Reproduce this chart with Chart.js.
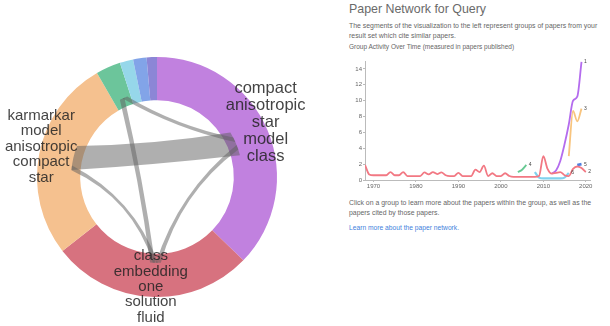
<!DOCTYPE html>
<html>
<head>
<meta charset="utf-8">
<script src="https://cdn.jsdelivr.net/npm/chart.js@4"></script>
<style>
  body { margin: 0; width: 610px; height: 326px; background: #fff; position: relative; overflow: hidden;
         font-family: "Liberation Sans", Arial, sans-serif; }
  #ring-wrap { position: absolute; left: 0; top: 0; width: 320px; height: 326px; }
  #activity-wrap { position: absolute; left: 340px; top: 55px; width: 260px; height: 137px; }
  .txt { position: absolute; left: 349px; white-space: nowrap; color: #666; }
</style>
</head>
<body>
<div id="ring-wrap"><canvas id="ring-chart"></canvas></div>

<div class="txt" style="top:2px; font-size:12.4px; color:#6a6a6a;">Paper Network for Query</div>
<div class="txt" style="top:21px; font-size:6.9px; line-height:10px;">The segments of the visualization to the left represent groups of papers from your<br>result set which cite similar papers.</div>
<div class="txt" style="top:43px; font-size:6.5px;">Group Activity Over Time (measured in papers published)</div>
<div id="activity-wrap"><canvas id="activity-chart"></canvas></div>
<div class="txt" style="top:198px; font-size:6.9px; line-height:10px;">Click on a group to learn more about the papers within the group, as well as the<br>papers cited by those papers.</div>
<div class="txt" style="top:224px; font-size:6.7px; color:#3f7fdc;">Learn more about the paper network.</div>

<script>
/* ============================== DATA ============================== */
// groups of the ring, clockwise from the top
const groupSizes  = [134, 98, 98, 12, 6.5, 6.5, 5];
const groupColors = ['#c181df', '#d7727f', '#f5c18f', '#6cc59b', '#96d7ea', '#82a4e8', '#8c86d6'];
const groupLabels = [
    ['compact', 'anisotropic', 'star', 'model', 'class'],
    ['class', 'embedding', 'one', 'solution', 'fluid'],
    ['karmarkar', 'model', 'anisotropic', 'compact', 'star'],
    [], [], [], []
];

// links between groups (index into the groups above)
const linkFrom   = [2, 3, 3, 2, 0];
const linkTo     = [0, 1, 0, 1, 1];
const linkWeight = [5, 1, 1, 1, 1];

// activity over time
const xTickYears  = [1970, 1980, 1990, 2000, 2010, 2020];
const yTickValues = [0, 2, 4, 6, 8, 10, 12, 14];

const redYears = [1968, 1969, 1970, 1971, 1972, 1973, 1974, 1975, 1976, 1977, 1978, 1979, 1980, 1981, 1982, 1983,
                  1984, 1985, 1986, 1987, 1988, 1989, 1990, 1991, 1992, 1993, 1994, 1995, 1996, 1997, 1998, 1999,
                  2000, 2001, 2002, 2003, 2004, 2005, 2006, 2007, 2008, 2009, 2010, 2011, 2012, 2013, 2014, 2015,
                  2016, 2017, 2018, 2019, 2020];
const redValues = [1.9, 0.7, 0.6, 0.6, 0.6, 0.6, 1.0, 0.6, 0.6, 1.0, 0.5, 0.5, 0.5, 0.5, 0.95, 0.7,
                   1.0, 0.75, 0.95, 0.6, 0.5, 0.5, 0.9, 0.5, 0.5, 0.5, 1.3, 1.0, 1.8, 0.5, 0.85, 0.5,
                   0.5, 0.85, 0.5, 0.4, 0.4, 0.4, 0.4, 0.4, 0.4, 0.5, 3.0, 1.4, 0.8, 0.9, 1.0, 0.6,
                   0.5, 1.4, 1.7, 1.5, 1.0];
const purpleYears  = [2012, 2013, 2014, 2015, 2016, 2017, 2018, 2019];
const purpleValues = [0.8, 1.2, 2.4, 4.5, 7.0, 10.0, 10.5, 14.9];
const orangeYears  = [2016, 2017, 2018, 2019];
const orangeValues = [3.0, 8.7, 7.4, 9.0];
const greenYears   = [2004, 2005, 2006];
const greenValues  = [1.0, 1.3, 1.9];
const cyanYears    = [2008, 2009, 2010, 2011, 2012, 2013, 2014, 2015, 2016];
const cyanValues   = [1.0, 0.3, 0.2, 0.2, 0.2, 0.2, 0.2, 0.3, 0.9];
const blueYears    = [2018, 2019];
const blueValues   = [1.9, 2.0];

/* ============================== RING ============================== */
const linkPlugin = {
    id: 'linkPlugin',
    afterDatasetsDraw(chart, args, opts) {
        const { ctx } = chart;
        const arcs = chart.getDatasetMeta(0).data;
        const cx = arcs[0].x, cy = arcs[0].y;
        const rr = arcs[0].innerRadius + 9;
        const unit = 3.3 * Math.PI / 180;
        const pt = a => [cx + rr * Math.cos(a), cy + rr * Math.sin(a)];
        const ctrl = (p, q, s) => {
            const mx = (p[0] + q[0]) / 2, my = (p[1] + q[1]) / 2;
            return [mx + s * (cx - mx), my + s * (cy - my)];
        };
        const at = (el, f) => el.startAngle + f * (el.endAngle - el.startAngle);

        ctx.save();
        ctx.fillStyle = 'rgba(95, 95, 95, 0.5)';
        linkFrom.forEach((src, i) => {
            const hw = linkWeight[i] * unit / 2;
            const a = at(arcs[src], opts.fromPos[i]);
            const b = at(arcs[linkTo[i]], opts.toPos[i]);
            const s0 = a - hw, s1 = a + hw, t0 = b - hw, t1 = b + hw;
            const c1 = ctrl(pt(s1), pt(t0), opts.sag[i]);
            const c2 = ctrl(pt(t1), pt(s0), opts.sag[i]);
            ctx.beginPath();
            ctx.moveTo(...pt(s0));
            ctx.arc(cx, cy, rr, s0, s1);
            ctx.quadraticCurveTo(c1[0], c1[1], ...pt(t0));
            ctx.arc(cx, cy, rr, t0, t1);
            ctx.quadraticCurveTo(c2[0], c2[1], ...pt(s0));
            ctx.closePath();
            ctx.fill();
        });

        // group labels
        ctx.fillStyle = 'rgba(35, 35, 35, 0.85)';
        ctx.textAlign = 'center';
        ctx.textBaseline = 'middle';
        arcs.forEach((el, i) => {
            const lines = groupLabels[i];
            if (!lines.length) return;
            const size = opts.fontSizes[i];
            const lh = size * 1.03;
            const mid = (el.startAngle + el.endAngle) / 2;
            const r = el.outerRadius - 2;
            const x = cx + r * Math.cos(mid);
            const y = cy + r * Math.sin(mid) - 8;
            ctx.font = size + 'px "Liberation Sans", Arial, sans-serif';
            lines.forEach((t, k) => {
                ctx.fillText(t, x, y + (k - (lines.length - 1) / 2) * lh);
            });
        });
        ctx.restore();
    }
};

function ringChart() {
    const ctx = document.getElementById('ring-chart').getContext('2d');
    new Chart(ctx, {
        type: 'doughnut',
        data: {
            labels: groupLabels.map(l => l.join(' ')),
            datasets: [{
                data: groupSizes,
                backgroundColor: groupColors,
                borderWidth: 0,
                hoverOffset: 0
            }]
        },
        options: {
            responsive: true,
            maintainAspectRatio: false,
            animation: false,
            cutout: '64%',
            layout: { padding: { left: 37, top: 57, right: 43, bottom: 29 } },
            plugins: {
                legend: { display: false },
                tooltip: { enabled: false },
                linkPlugin: {
                    fromPos: [0.52, 0.5, 0.67, 0.45, 0.52],
                    toPos:   [0.5, 0.5, 0.48, 0.48, 0.46],
                    sag:     [0.15, 0.2, 0.15, 0.45, 0.45],
                    fontSizes: [16.5, 15, 15, 15, 15, 15, 15]
                }
            }
        },
        plugins: [linkPlugin]
    });
}

/* ============================== ACTIVITY ============================== */
const endLabelPlugin = {
    id: 'endLabelPlugin',
    afterDatasetsDraw(chart) {
        const { ctx } = chart;
        ctx.save();
        ctx.font = '5px "Liberation Sans", Arial, sans-serif';
        ctx.fillStyle = '#444';
        ctx.textBaseline = 'middle';
        chart.data.datasets.forEach((ds, i) => {
            const pts = chart.getDatasetMeta(i).data;
            const last = pts[pts.length - 1];
            ctx.fillText(ds.label, last.x + 2.5, last.y);
        });
        ctx.restore();
    }
};

function series(label, years, values, color, width) {
    return {
        label: label,
        data: years.map((y, i) => ({ x: y, y: values[i] })),
        borderColor: color,
        borderWidth: width || 1.8,
        pointRadius: 0,
        cubicInterpolationMode: 'monotone',
        fill: false
    };
}

function activityChart() {
    const ctx = document.getElementById('activity-chart').getContext('2d');
    const tickFont = { size: 6, family: '"Liberation Sans", Arial, sans-serif' };
    new Chart(ctx, {
        type: 'line',
        data: {
            datasets: [
                series('2', redYears, redValues, '#f27883'),
                series('4', greenYears, greenValues, '#66c992'),
                series('6', cyanYears, cyanValues, '#80d2ee', 2.2),
                series('1', purpleYears, purpleValues, '#b46cee'),
                series('3', orangeYears, orangeValues, '#f8c47e'),
                series('5', blueYears, blueValues, '#4f7fe0', 2.6)
            ]
        },
        options: {
            responsive: true,
            maintainAspectRatio: false,
            animation: false,
            layout: { padding: { top: 6, right: 10, left: 0, bottom: 0 } },
            plugins: { legend: { display: false }, tooltip: { enabled: false } },
            scales: {
                x: {
                    type: 'linear', min: 1968, max: 2021,
                    afterBuildTicks: s => { s.ticks = xTickYears.map(v => ({ value: v })); },
                    afterFit: s => { s.height = 12; },
                    grid: { drawOnChartArea: false, tickLength: 2, color: '#bbb' },
                    border: { color: '#bbb' },
                    ticks: { font: tickFont, color: '#666', padding: 1, maxRotation: 0, callback: v => String(v) }
                },
                y: {
                    min: 0, max: 15,
                    afterBuildTicks: s => { s.ticks = yTickValues.map(v => ({ value: v })); },
                    afterFit: s => { s.width = 25; },
                    grid: { drawOnChartArea: false, tickLength: 2, color: '#bbb' },
                    border: { color: '#bbb' },
                    ticks: { font: tickFont, color: '#666', padding: 1 }
                }
            }
        },
        plugins: [endLabelPlugin]
    });
}

ringChart();
activityChart();
</script>
</body>
</html>
